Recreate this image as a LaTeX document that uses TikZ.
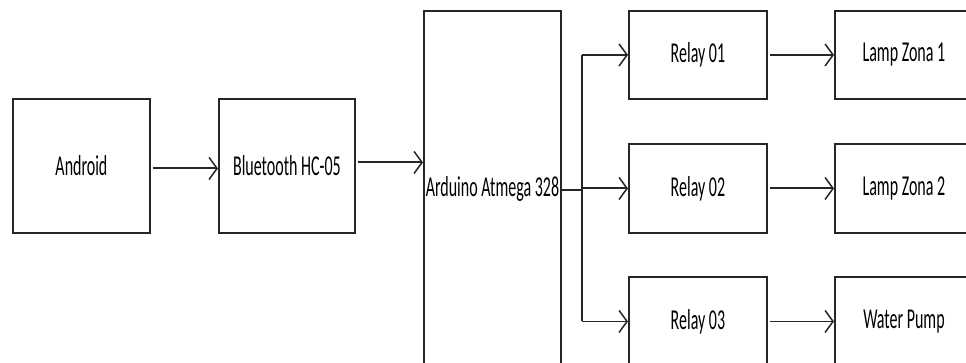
\documentclass[tikz,border=0pt]{standalone}
\usepackage{graphicx}
\usepackage{fontspec}
\setmainfont{Carlito}
\usetikzlibrary{arrows.meta}
\newcommand\stxt[1]{\scalebox{1}[1.8]{#1}}
\begin{document}
\begin{tikzpicture}[x=1pt,y=-1pt,
  blk/.style={draw=black!85,line width=1.9pt,minimum width=137pt,minimum height=134pt,
    inner sep=0pt,anchor=north west,font=\fontsize{16}{19}\selectfont},
  conn/.style={draw=black!85,line width=1.9pt},
  arr/.style={conn,-{Straight Barb[length=8pt,width=22pt,line width=1.5pt]}}]
\useasboundingbox[clip] (0,0) rectangle (966,363);
\fill[white] (0,0) rectangle (966,363);
\node[blk] (and) at (12,98) {\stxt{Android}};
\node[blk,minimum width=136pt] (bt) at (218,98) {\stxt{Bluetooth HC-05}};
\node[blk,minimum height=356pt] (ard) at (423,10) {\stxt{Arduino Atmega 328}};
\node[blk,minimum width=138pt,minimum height=88pt] (r1) at (628,10) {\stxt{Relay 01}};
\node[blk,minimum width=138pt,minimum height=89pt] (r2) at (628,143) {\stxt{Relay 02}};
\node[blk,minimum width=138pt,minimum height=89pt] (r3) at (628,276) {\stxt{Relay 03}};
\node[blk,minimum width=138pt,minimum height=88pt] (l1) at (834,10) {\stxt{Lamp Zona 1}};
\node[blk,minimum width=138pt,minimum height=89pt] (l2) at (834,143) {\stxt{Lamp Zona 2}};
\node[blk,minimum width=138pt,minimum height=89pt] (l3) at (834,276) {\stxt{Water Pump}};
\coordinate (br) at (582,190);
\draw[arr] ([yshift=-2.5pt,xshift=2pt]and.east) -- ([yshift=-2.5pt]bt.west);
\draw[arr] ([yshift=3.5pt,xshift=2pt]bt.east) -- ([yshift=3.5pt]bt.east -| ard.west);
\draw[conn] (ard.east |- br) -- (br);
\draw[conn] (br |- r1.west) -- (br |- r3.west);
\draw[arr] (br |- r1.west) -- (r1.west);
\draw[arr] (br |- r2.west) -- (r2.west);
\draw[arr] (br |- r3.west) -- (r3.west);
\draw[arr] ([xshift=2pt]r1.east) -- (l1.west);
\draw[arr] ([xshift=2pt]r2.east) -- (l2.west);
\draw[arr] ([xshift=2pt]r3.east) -- (l3.west);
\end{tikzpicture}
\end{document}
